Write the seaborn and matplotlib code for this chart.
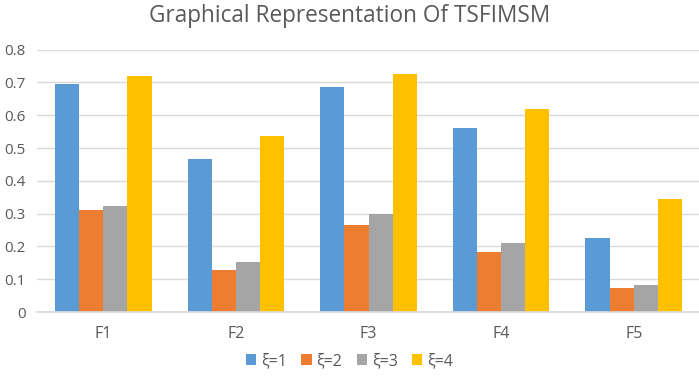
import matplotlib
matplotlib.use("Agg")
import matplotlib.pyplot as plt
import seaborn as sns
import pandas as pd

categories = ["F1", "F2", "F3", "F4", "F5"]
series = ["ξ=1", "ξ=2", "ξ=3", "ξ=4"]
xi1 = [0.695, 0.468, 0.686, 0.560, 0.226]
xi2 = [0.312, 0.129, 0.266, 0.182, 0.072]
xi3 = [0.324, 0.153, 0.298, 0.209, 0.081]
xi4 = [0.720, 0.536, 0.726, 0.619, 0.346]
colors = ["#5B9BD5", "#ED7D31", "#A5A5A5", "#FFC000"]
yticks = [0, 0.1, 0.2, 0.3, 0.4, 0.5, 0.6, 0.7, 0.8]
ytick_labels = ["0", "0.1", "0.2", "0.3", "0.4", "0.5", "0.6", "0.7", "0.8"]

rows = []
for s, vals in zip(series, [xi1, xi2, xi3, xi4]):
    for c, v in zip(categories, vals):
        rows.append({"cat": c, "series": s, "value": v})
df = pd.DataFrame(rows)

sns.set_theme(style="white")
plt.rcParams["font.family"] = ["Open Sans", "DejaVu Sans"]
txt = "#595959"

fig = plt.figure(figsize=(6.99, 3.81), dpi=100)
ax = fig.add_axes([37 / 699, 1 - 312 / 381, 663 / 699, (312 - 49.7) / 381])
sns.barplot(data=df, x="cat", y="value", hue="series", palette=colors,
            width=0.73, saturation=1, ax=ax, legend=True)
for p in ax.patches:
    p.set_linewidth(0)

ax.set_ylim(0, 0.8)
ax.set_xlim(-0.5, 4.5)
ax.set_yticks(yticks)
ax.set_yticklabels(ytick_labels)
ax.yaxis.grid(True, color="#D9D9D9", linewidth=1)
ax.set_axisbelow(True)
for sp in ["top", "right", "left"]:
    ax.spines[sp].set_visible(False)
ax.spines["bottom"].set_color("#D9D9D9")
ax.tick_params(axis="both", length=0, labelsize=11.5, colors=txt)
ax.tick_params(axis="x", pad=10)
ax.tick_params(axis="y", labelsize=11, pad=8)
ax.set_xlabel("")
ax.set_ylabel("")

fig.text(0.5, 1 - 16 / 381, "Graphical Representation Of TSFIMSM", ha="center",
         va="center", fontsize=16.3, color=txt)

handles, labels = ax.get_legend_handles_labels()
ax.get_legend().remove()
fig.legend(handles, labels, loc="center", bbox_to_anchor=(0.5, 1 - 361 / 381),
           ncol=4, frameon=False, fontsize=11.5, handlelength=0.65, handleheight=0.65,
           handletextpad=0.3, columnspacing=0.9, labelcolor=txt)

fig.savefig("out.png", dpi=100)
